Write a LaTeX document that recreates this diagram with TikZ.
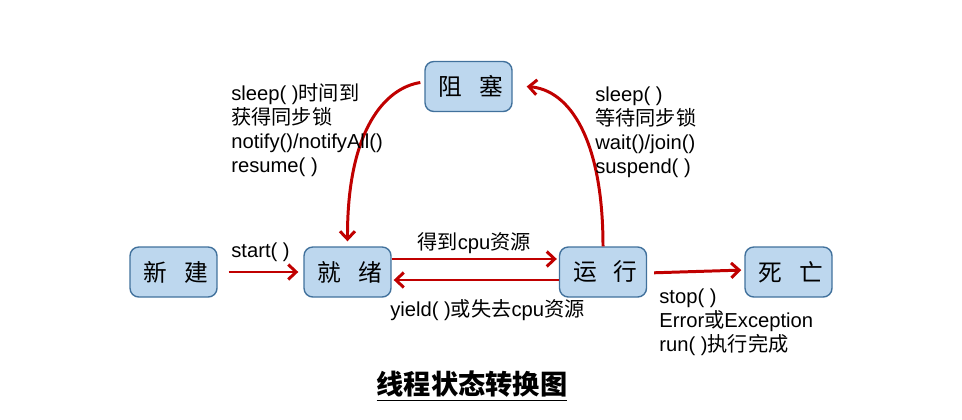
\documentclass[tikz,border=0pt]{standalone}
\usepackage{fontspec}
\setmainfont{Liberation Sans}
\newfontfamily\cjk{Noto Sans CJK SC}
\usepackage{tikz}
\usetikzlibrary{arrows.meta,positioning,calc}
\definecolor{cFill}{HTML}{BDD7EE}
\definecolor{cEdge}{HTML}{41719C}
\definecolor{cRed}{HTML}{C00000}
\tikzset{
  stbox/.style={draw=cEdge,fill=cFill,rounded corners=5pt,line width=0.8pt,minimum width=1.74cm,minimum height=1cm,font=\fontsize{13.5}{16}\cjk,inner sep=2pt},
  arr/.style={-{Straight Barb[length=4.5pt,width=8.5pt]},line width=1.7pt,color=cRed},
  lbl/.style={font=\fontsize{11.5}{13.6}\selectfont,align=left,inner sep=0pt,anchor=west},
}
\begin{document}
\begin{tikzpicture}[x=0.02cm,y=-0.02cm]
  \useasboundingbox (0,0) rectangle (962,419);
  % states
  \node[stbox] (new)   at (173.5,272) {\hspace{0.2em}新\hspace{0.7em}建};
  \node[stbox] (ready) at (347.5,272) {\hspace{0.2em}就\hspace{0.7em}绪};
  \node[stbox] (run)   at (603,272)   {\hspace{0.2em}运\hspace{0.7em}行};
  \node[stbox] (dead)  at (788.5,272) {\hspace{0.2em}死\hspace{0.7em}亡};
  \node[stbox] (block) at (468.5,86.5) {\hspace{0.2em}阻\hspace{0.7em}塞};
  % transitions
  \draw[arr,shorten <=0.22cm,shorten >=0.1cm] (new) -- (ready);
  \draw[arr,shorten >=0.04cm] ($(ready.east)+(0,-13)$) -- ($(run.west)+(0,-13)$);
  \draw[arr,shorten >=0.04cm] ($(run.west)+(0,8)$) -- ($(ready.east)+(0,8)$);
  \draw[arr,shorten <=0.14cm,shorten >=0.06cm] ($(run.east)+(0,1)$) -- ($(dead.west)+(0,-2)$);
  \draw[arr] (run.north) .. controls (603,140) and (570,90) .. ($(block.east)+(14,0)$);
  \draw[arr] ($(block.west)+(-4,-4)$) .. controls (385,88) and (347,130) .. ($(ready.north)+(0,-5)$);
  % labels
  \node[lbl] (startlbl) at (231,252) {start( )};
  \node[lbl] (getlbl)   at (417,243) {{\cjk 得到}cpu{\cjk 资源}};
  \node[lbl] (yieldlbl) at (390,310) {yield( ){\cjk 或失去}cpu{\cjk 资源}};
  \node[lbl] (wakelbl)  at (231,130) {sleep( ){\cjk 时间到}\\{\cjk 获得同步锁}\\notify()/notifyAll()\\resume( )};
  \node[lbl] (waitlbl)  at (595,132) {sleep( )\\{\cjk 等待同步锁}\\wait()/join()\\suspend( )};
  \node[lbl] (stoplbl)  at (659,322) {stop( )\\Error{\cjk 或}Exception\\run( ){\cjk 执行完成}};
  \node[font=\fontsize{15.5}{18}\cjk\bfseries] (title) at (472,386) {\underline{线程状态转换图}};
\end{tikzpicture}
\end{document}
